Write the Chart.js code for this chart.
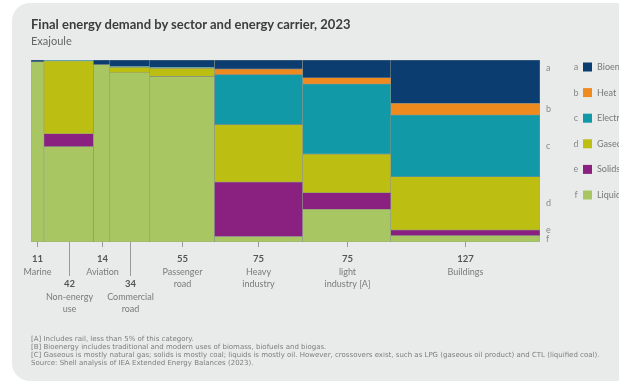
<!DOCTYPE html>
<html>
<head>
<meta charset="utf-8">
<script src="https://cdn.jsdelivr.net/npm/chart.js@4"></script>
<style>
  html, body { margin: 0; padding: 0; background: #fff; }
  body { width: 630px; height: 390px; position: relative; overflow: hidden; font-family: Lato, "Noto Sans", sans-serif; }
  #card { position: absolute; left: 12px; top: 3px; width: 607px; height: 378px; background: #e9ebeb; border-radius: 18px 0 0 18px; overflow: hidden; }
  #wrap { position: absolute; left: -12px; top: -3px; width: 630px; height: 390px; }
  #title { position: absolute; left: 31px; top: 16px; font-size: 13px; font-weight: bold; color: #3c3c3c; white-space: nowrap; }
  #sub { position: absolute; left: 31px; top: 34px; font-size: 11px; color: #666; }
  #notes { position: absolute; left: 31px; top: 335px; font-family: "DejaVu Sans", sans-serif; font-size: 7px; line-height: 8px; color: #7d7d7d; white-space: nowrap; }
</style>
</head>
<body>
<div id="card"><div id="wrap"><canvas id="myChart" width="630" height="390"></canvas></div></div>
<div id="title">Final energy demand by sector and energy carrier, 2023</div>
<div id="sub">Exajoule</div>
<div id="notes">
  [A] Includes rail, less than 5% of this category.<br>
  [B] Bioenergy includes traditional and modern uses of biomass, biofuels and biogas.<br>
  [C] Gaseous is mostly natural gas; solids is mostly coal; liquids is mostly oil. However, crossovers exist, such as LPG (gaseous oil product) and CTL (liquified coal).<br>
  Source: Shell analysis of IEA Extended Energy Balances (2023).
</div>
<script>
// sectors (column width = total demand, EJ)
const sectors = [['Marine'], ['Non-energy', 'use'], ['Aviation'], ['Commercial', 'road'], ['Passenger', 'road'], ['Heavy', 'industry'], ['light', 'industry [A]'], ['Buildings']];
const totals = [11, 42, 14, 34, 55, 75, 75, 127];

// carriers, top to bottom
const carriers = ['Bioenergy [B]', 'Heat', 'Electricity', 'Gaseous [C]', 'Solids [C]', 'Liquids [C]'];
const letters = ['a', 'b', 'c', 'd', 'e', 'f'];
const colors = ['#0b3d70', '#ef8a1f', '#1299a8', '#bcbf12', '#8a2080', '#a8c763'];

// share of each sector (%)
const bioenergy   = [1, 0, 2.5, 3.5, 4, 5, 9.7, 23.8];
const heat        = [0, 0, 0, 0, 0, 3, 3.5, 6.4];
const electricity = [0, 0.5, 0, 0.5, 0.5, 27.5, 38.5, 33.9];
const gases       = [0, 40, 0, 3, 4.5, 31.5, 21.2, 29.3];
const solids      = [0, 7, 0, 0, 0, 30, 9.1, 3];
const liquids     = [99, 52.5, 97.5, 93, 91, 3, 18, 3.6];

const shares = [bioenergy, heat, electricity, gases, solids, liquids];
const grand = totals.reduce((a, b) => a + b, 0);

// build one floating-bar dataset per column, stacked from the bottom
let left = 0;
const columns = totals.map((t, i) => {
  const center = left + t / 2;
  left += t;
  let acc = 0;
  const segs = [];
  for (let k = shares.length - 1; k >= 0; k--) {
    const v = shares[k][i];
    if (v > 0) segs.push({ k, lo: acc, hi: acc + v });
    acc += v;
  }
  return { center, segs };
});

const datasets = columns.map((c, i) => ({
  data: c.segs.map(s => ({ x: c.center, y: [s.lo, s.hi] })),
  backgroundColor: c.segs.map(s => colors[s.k]),
  borderColor: 'rgba(120,128,120,0.75)',
  borderWidth: 0.6,
  borderSkipped: false,
  grouped: false,
  barThickness: ctx => {
    const x = ctx.chart.scales.x;
    return x.getPixelForValue(totals[i]) - x.getPixelForValue(0);
  }
}));

const lowered = [1, 3]; // labels pushed down a row to avoid overlap

const annotate = {
  id: 'annotate',
  afterDraw(chart) {
    const { ctx, chartArea: a, scales: { x, y } } = chart;
    ctx.save();
    ctx.textAlign = 'center';
    ctx.textBaseline = 'middle';
    ctx.strokeStyle = '#9a9a9a';
    ctx.lineWidth = 1;

    // x labels
    columns.forEach((c, i) => {
      const cx = Math.round(x.getPixelForValue(c.center)) + 0.5;
      const low = lowered.includes(i);
      const y0 = a.bottom + (low ? 42 : 17);
      ctx.beginPath();
      ctx.moveTo(cx, a.bottom);
      ctx.lineTo(cx, low ? a.bottom + 34 : a.bottom + 5);
      ctx.stroke();
      ctx.fillStyle = '#555';
      ctx.font = 'bold 9.5px Lato, "Noto Sans", sans-serif';
      ctx.fillText(totals[i], cx, y0);
      ctx.fillStyle = '#7a7a7a';
      ctx.font = '9px Lato, "Noto Sans", sans-serif';
      sectors[i].forEach((line, j) => ctx.fillText(line, cx, y0 + 13 + j * 12));
    });

    // letters at the right of the last column
    const last = columns[columns.length - 1];
    const pos = letters.map((l, k) => {
      const s = last.segs.find(z => z.k === k);
      return s ? (y.getPixelForValue(s.lo) + y.getPixelForValue(s.hi)) / 2 : a.top;
    });
    pos[0] = Math.min(pos[0], a.top + 8);
    for (let k = pos.length - 2; k >= 0; k--) pos[k] = Math.min(pos[k], pos[k + 1] - 9);
    ctx.fillStyle = '#888';
    ctx.font = '9px Lato, "Noto Sans", sans-serif';
    ctx.textAlign = 'left';
    letters.forEach((l, k) => ctx.fillText(l, a.right + 6, pos[k]));

    // legend
    carriers.forEach((name, k) => {
      const ly = a.top + 7 + k * 25.6;
      ctx.fillStyle = '#888';
      ctx.textAlign = 'center';
      ctx.fillText(letters[k], a.right + 36, ly);
      ctx.fillStyle = colors[k];
      ctx.fillRect(a.right + 43, ly - 4.5, 9, 9);
      ctx.fillStyle = '#777';
      ctx.textAlign = 'left';
      ctx.fillText(name, a.right + 57, ly);
    });
    ctx.restore();
  }
};

new Chart(document.getElementById('myChart'), {
  type: 'bar',
  data: { datasets },
  options: {
    responsive: false,
    animation: false,
    layout: { padding: { left: 31, top: 60, right: 90, bottom: 148 } },
    plugins: { legend: { display: false }, tooltip: { enabled: false } },
    scales: {
      x: { type: 'linear', min: 0, max: grand, offset: false, display: false },
      y: { min: 0, max: 100, display: false }
    }
  },
  plugins: [annotate]
});
</script>
</body>
</html>
